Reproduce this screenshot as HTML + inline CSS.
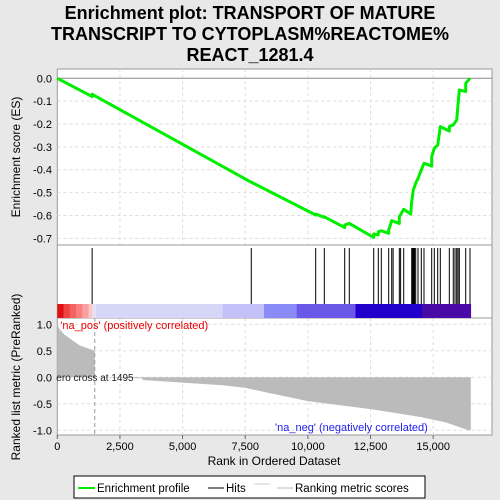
<!DOCTYPE html>
<html><head><meta charset="utf-8"><style>
body{margin:0;background:#e8e8e8;}
svg{display:block;font-family:"Liberation Sans",sans-serif;}
</style></head><body>
<svg id="c" width="500" height="500" viewBox="0 0 500 500">
<text x="250" y="19" text-anchor="middle" font-size="18" font-weight="bold">Enrichment plot: TRANSPORT OF MATURE</text>
<text x="250" y="40" text-anchor="middle" font-size="18" font-weight="bold">TRANSCRIPT TO CYTOPLASM%REACTOME%</text>
<text x="250" y="61" text-anchor="middle" font-size="18" font-weight="bold">REACT_1281.4</text>
<rect x="57.3" y="69" width="434.7" height="366" fill="#fff" stroke="#999"/>
<g id="g"></g>
<text transform="translate(20,157) rotate(-90)" text-anchor="middle" font-size="12">Enrichment score (ES)</text>
<text transform="translate(20,377) rotate(-90)" text-anchor="middle" font-size="12">Ranked list metric (PreRanked)</text>
<text x="274" y="465" text-anchor="middle" font-size="12">Rank in Ordered Dataset</text>
<g>
<rect x="74" y="476" width="351" height="22" fill="#fff" stroke="#000"/>
<line x1="78" y1="488" x2="95" y2="488" stroke="#00ee00" stroke-width="2"/>
<text x="97" y="492" font-size="11.5">Enrichment profile</text>
<line x1="208" y1="488" x2="224" y2="488" stroke="#000"/>
<text x="226" y="492" font-size="11.5">Hits</text>
<line x1="254" y1="484" x2="270" y2="484" stroke="#ccc"/>
<line x1="277" y1="488" x2="293" y2="488" stroke="#bbb"/>
<text x="295" y="492" font-size="11.5">Ranking metric scores</text>
</g>
</svg>
<script>
const xTicks=[0,2500,5000,7500,10000,12500,15000];
const xTickLabels=["0","2,500","5,000","7,500","10,000","12,500","15,000"];
const esTicks=[0,-0.1,-0.2,-0.3,-0.4,-0.5,-0.6,-0.7];
const esTickLabels=["0.0","-0.1","-0.2","-0.3","-0.4","-0.5","-0.6","-0.7"];
const mTicks=[1,0.5,0,-0.5,-1];
const mTickLabels=["1.0","0.5","0.0","-0.5","-1.0"];
const esRanks=[0,1390,1390,7697,10311,10311,10655,10655,11468,11468,11652,12626,12626,12809,12809,12929,13224,13224,13344,13648,13648,13823,14100,14142,14206,14302,14394,14525,14633,14940,14940,15044,15180,15284,15643,15643,15802,15938,16042,16297,16297,16468];
const esValues=[0,-0.08,-0.07,-0.452,-0.598,-0.594,-0.608,-0.606,-0.653,-0.642,-0.635,-0.696,-0.681,-0.685,-0.671,-0.667,-0.678,-0.664,-0.623,-0.635,-0.606,-0.573,-0.594,-0.540,-0.489,-0.459,-0.438,-0.401,-0.372,-0.384,-0.343,-0.306,-0.292,-0.211,-0.231,-0.211,-0.204,-0.182,-0.051,-0.058,-0.022,0];
const hitRanks=[1390,7740,10311,10655,11468,11652,12626,12809,12929,13224,13344,13400,13648,13700,13823,14142,14170,14200,14230,14260,14302,14394,14525,14633,14940,15044,15180,15284,15643,15802,15870,15938,15990,16042,16297,16468];
const metricRanks=[0,100,300,600,900,1200,1495,1495,3400,3400,5000,6600,7500,8500,10000,12500,14500,15500,16400,16500];
const metricValues=[1.0,0.9,0.8,0.7,0.6,0.55,0.5,0,-0.02,-0.05,-0.1,-0.15,-0.2,-0.3,-0.45,-0.6,-0.75,-0.85,-1.0,-1.0];
const barStops=[0,250,500,750,1000,1250,1400,1550,6600,8250,9550,11900,14550,16500];
const barColors=["#dd1111","#ee4444","#f56262","#f88080","#fba0a0","#fcc8c8","#e8e0f8","#d6d6f8","#c4c0f8","#8a8af8","#6a58e8","#2200cc","#4a0aa8"];
const X=r=>57.3+r*0.02506;
const YE=v=>78.3-v*228.6;
const YM=v=>377.3-v*53;
const g=document.getElementById('g');
const NS="http://www.w3.org/2000/svg";
function mk(t,a,n,p){const e=document.createElementNS(NS,t);for(const k in a)e.setAttribute(k,a[k]);(p||g).appendChild(e);return e;}
// grid
xTicks.forEach((t,i)=>{if(t>0){mk('line',{x1:X(t),x2:X(t),y1:69,y2:245,stroke:'#ddd','stroke-dasharray':'3,3'},'es-grid-x');mk('line',{x1:X(t),x2:X(t),y1:318,y2:435,stroke:'#ddd','stroke-dasharray':'3,3'},'metric-grid-x');}
 mk('line',{x1:X(t),x2:X(t),y1:435,y2:439,stroke:'#666'},'x-tick');
 const tx=mk('text',{x:X(t),y:450,'text-anchor':'middle','font-size':11},'x-tick-label');tx.textContent=xTickLabels[i];});
esTicks.forEach((t,i)=>{mk('line',{x1:57.3,x2:492,y1:YE(t),y2:YE(t),stroke:t===0?'#888':'#ddd','stroke-dasharray':t===0?'':'3,3'},'es-grid-y');
 const tx=mk('text',{x:52,y:YE(t)+4,'text-anchor':'end','font-size':11},'es-tick-label');tx.textContent=esTickLabels[i];});
mTicks.forEach((t,i)=>{mk('line',{x1:57.3,x2:492,y1:YM(t),y2:YM(t),stroke:'#ddd','stroke-dasharray':'3,3'},'metric-grid-y');
 const tx=mk('text',{x:52,y:YM(t)+4,'text-anchor':'end','font-size':11},'metric-tick-label');tx.textContent=mTickLabels[i];});
mk('line',{x1:57.3,x2:492,y1:245,y2:245,stroke:'#999'},'es-panel-bottom');
mk('line',{x1:57.3,x2:492,y1:318,y2:318,stroke:'#999'},'metric-panel-top');
// metric area
let pts=[[X(0),YM(0)]];metricRanks.forEach((r,i)=>pts.push([X(r),YM(metricValues[i])]));pts.push([X(16500),YM(0)]);
mk('polygon',{points:pts.map(p=>p.join(',')).join(' '),fill:'#bbb'},'metric-area');
mk('line',{x1:X(1495),x2:X(1495),y1:318,y2:435,stroke:'#999','stroke-dasharray':'4,3'},'zero-cross-line');
let t1=mk('text',{x:X(0)+3,y:329,'font-size':11,fill:'#ee0000'},'na-pos-label');t1.textContent="'na_pos' (positively correlated)";
let t2=mk('text',{x:X(0)-1,y:381,'font-size':10,fill:'#222'},'zero-cross-label');t2.textContent="ero cross at 1495";
let t3=mk('text',{x:275,y:431,'font-size':11,fill:'#2222ee'},'na-neg-label');t3.textContent="'na_neg' (negatively correlated)";
// color bar
for(let i=0;i<barColors.length;i++)mk('rect',{x:X(barStops[i]),y:304,width:X(barStops[i+1])-X(barStops[i])+0.3,height:14,fill:barColors[i]},'rank-color-bar');
// hits
hitRanks.forEach(r=>mk('line',{x1:X(r),x2:X(r),y1:248,y2:304,stroke:'#000','stroke-width':1},'hit-line'));
// ES
mk('polyline',{points:esRanks.map((r,i)=>X(r)+','+YE(esValues[i])).join(' '),fill:'none',stroke:'#00ee00','stroke-width':3,'stroke-linejoin':'round'},'enrichment-profile-line');
</script>
</body></html>
